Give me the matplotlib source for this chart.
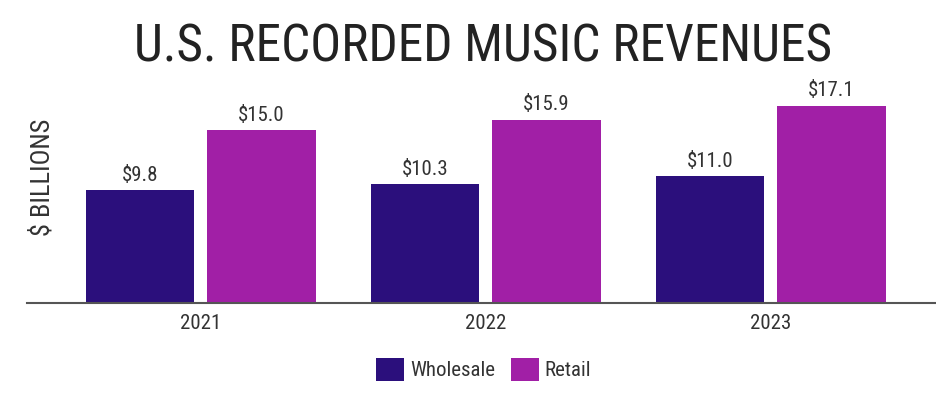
import numpy as np
import matplotlib
matplotlib.use("Agg")
import matplotlib.pyplot as plt
from matplotlib.patches import Patch

years = ["2021", "2022", "2023"]
wholesale = [9.8, 10.3, 11.0]
retail = [15.0, 15.9, 17.1]
series_names = ["Wholesale", "Retail"]
colors = ["#2b0f7c", "#a11fa6"]

plt.rcParams["font.family"] = ["Roboto Condensed", "Liberation Sans Narrow",
                               "PT Sans Narrow", "Archivo Narrow", "DejaVu Sans"]

fig = plt.figure(figsize=(9.36, 3.93), dpi=100)
ax = fig.add_axes([0.029, 0.229, 0.971, 0.529])

x = np.arange(len(years))
w = 0.38
off = 0.213
b1 = ax.bar(x - off, wholesale, w, color=colors[0])
b2 = ax.bar(x + off, retail, w, color=colors[1])

for bars, vals in [(b1, wholesale), (b2, retail)]:
    for bar, v in zip(bars, vals):
        ax.annotate(f"${v:.1f}", (bar.get_x() + bar.get_width() / 2, v),
                    xytext=(0, 4), textcoords="offset points",
                    ha="center", va="bottom", fontsize=15, color="#333333")

ax.set_xlim(-0.61, 2.58)
ax.set_ylim(0, 18.04)
ax.set_xticks(x)
ax.set_xticklabels(years, fontsize=15, color="#333333")
ax.tick_params(axis="x", length=0, pad=8)
ax.set_yticks([])
for s in ["top", "right", "left"]:
    ax.spines[s].set_visible(False)
ax.spines["bottom"].set_color("#555555")
ax.spines["bottom"].set_linewidth(1.5)

fig.text(0.045, 0.55, "$ BILLIONS", rotation=90, ha="center", va="center",
         fontsize=19, color="#333333")
fig.text(0.516, 0.88, "U.S. RECORDED MUSIC REVENUES", ha="center", va="center",
         fontsize=37, color="#222222")

handles = [Patch(facecolor=c, label=n) for c, n in zip(colors, series_names)]
fig.legend(handles=handles, loc="center", bbox_to_anchor=(0.517, 0.06), ncol=2,
           frameon=False, fontsize=15, handlelength=1.3, handleheight=1.3,
           handletextpad=0.3, columnspacing=0.8, labelcolor="#333333")

fig.savefig("out.png", dpi=100)
